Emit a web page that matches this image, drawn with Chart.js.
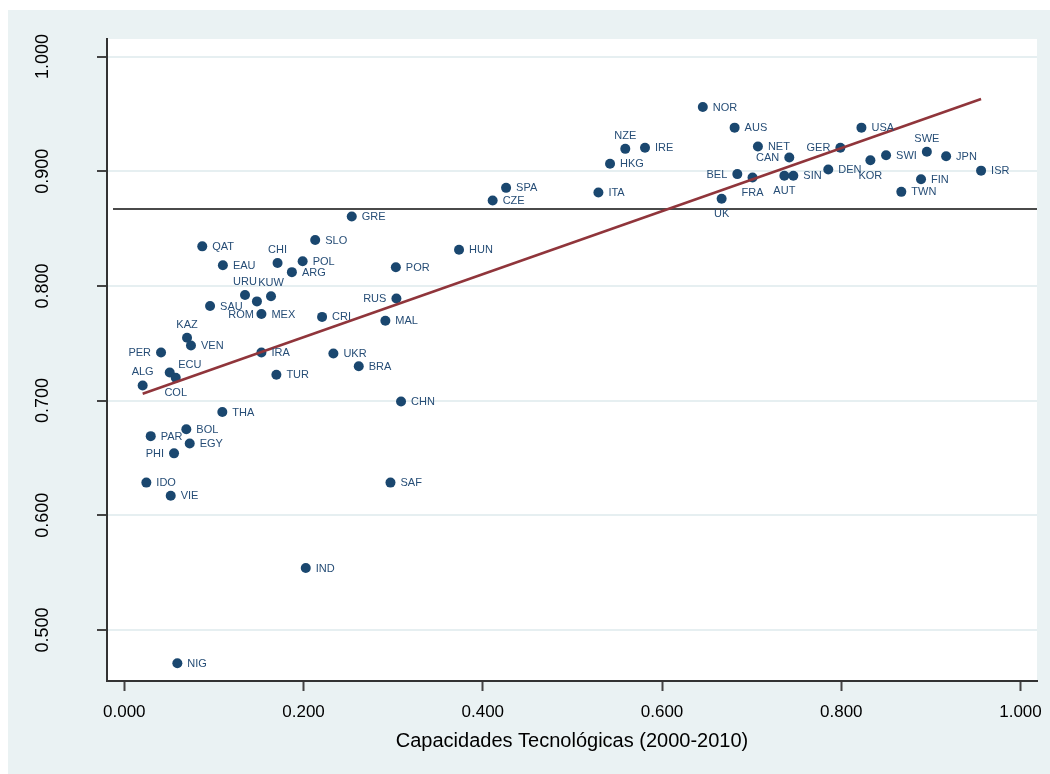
<!DOCTYPE html>
<html><head><meta charset="utf-8">
<script src="https://cdn.jsdelivr.net/npm/chart.js@4.4.1/dist/chart.umd.min.js"></script>
<style>html,body{margin:0;padding:0;background:#fff;overflow:hidden}#wrap{width:1050px;height:774px}</style>
</head><body><div id="wrap"><canvas id="c" width="1050" height="774"></canvas></div>
<script>
const countries = ['NOR','AUS','USA','NZE','IRE','HKG','NET','GER','CAN','SWE','SWI','JPN','KOR','DEN','ISR','BEL','FRA','AUT','SIN','FIN','TWN','UK','SPA','ITA','CZE','GRE','SLO','HUN','QAT','CHI','POL','EAU','POR','ARG','URU','KUW','RUS','ROM','SAU','MEX','CRI','MAL','KAZ','VEN','PER','IRA','UKR','BRA','ECU','TUR','COL','ALG','CHN','THA','BOL','PAR','EGY','PHI','IDO','SAF','VIE','IND','NIG'];
const techCapabilities = [0.6455,0.681,0.8225,0.559,0.581,0.542,0.707,0.799,0.742,0.8955,0.850,0.917,0.8325,0.7855,0.956,0.684,0.701,0.7365,0.7465,0.889,0.867,0.6665,0.426,0.529,0.411,0.2538,0.213,0.3735,0.087,0.171,0.199,0.110,0.303,0.187,0.1347,0.1637,0.3036,0.148,0.0957,0.153,0.2207,0.2913,0.070,0.0744,0.041,0.153,0.2333,0.2616,0.0507,0.1697,0.0574,0.0205,0.3088,0.1094,0.0692,0.0295,0.073,0.0555,0.0246,0.297,0.0518,0.2025,0.0592];
const yValues = [0.956,0.938,0.938,0.9195,0.9205,0.9065,0.9215,0.9205,0.912,0.917,0.914,0.913,0.9095,0.9015,0.9005,0.8975,0.8945,0.896,0.896,0.893,0.882,0.876,0.8855,0.8815,0.8745,0.8605,0.840,0.8315,0.8345,0.820,0.8215,0.818,0.8162,0.812,0.792,0.791,0.789,0.7865,0.7825,0.7755,0.773,0.7696,0.7548,0.748,0.742,0.742,0.741,0.730,0.7245,0.7225,0.720,0.7132,0.6992,0.690,0.675,0.669,0.6626,0.654,0.6285,0.6285,0.617,0.554,0.471];
const fitX = [0.0205, 0.956];
const fitY = [0.706, 0.963];
const meanY = 0.867;
const xTicks = [0, 0.2, 0.4, 0.6, 0.8, 1.0];
const xTickLabels = ['0.000','0.200','0.400','0.600','0.800','1.000'];
const yTicks = [0.5, 0.6, 0.7, 0.8, 0.9, 1.0];
const yTickLabels = ['0.500','0.600','0.700','0.800','0.900','1.000'];
const xTitle = 'Capacidades Tecnológicas (2000-2010)';

// label clock positions (style)
const labelPos = {NZE:12,SWE:12,CHI:12,URU:12,KUW:12,KAZ:12,ALG:12,
  KOR:6,FRA:6,AUT:6,UK:6,COL:6,
  CAN:9,GER:9,BEL:9,RUS:9,PER:9,PHI:9,
  ROM:7,ECU:2};

const FONT = '"Liberation Sans", Arial, Helvetica, sans-serif';
const NAVY = '#1a476f';
const LABEL_COLOR = '#264d76';

const bgPlugin = {
  id: 'bg',
  beforeDraw(chart) {
    const {ctx, chartArea: a} = chart;
    ctx.save();
    ctx.fillStyle = '#ffffff';
    ctx.fillRect(0, 0, chart.width, chart.height);
    ctx.fillStyle = '#eaf2f3';
    ctx.fillRect(8, 10, chart.width - 8, chart.height - 10);
    ctx.fillStyle = '#ffffff';
    ctx.fillRect(a.left, a.top, a.right - a.left, a.bottom - a.top);
    ctx.restore();
  }
};

const meanPlugin = {
  id: 'meanline',
  beforeDatasetsDraw(chart) {
    const {ctx, chartArea: a, scales} = chart;
    const y = scales.y.getPixelForValue(meanY);
    ctx.save();
    ctx.strokeStyle = '#4a4a4a';
    ctx.lineWidth = 2;
    ctx.beginPath();
    ctx.moveTo(a.left + 6, y);
    ctx.lineTo(a.right, y);
    ctx.stroke();
    ctx.restore();
  }
};

const labelPlugin = {
  id: 'mlabels',
  afterDatasetsDraw(chart) {
    const {ctx} = chart;
    const meta = chart.getDatasetMeta(0);
    ctx.save();
    ctx.font = '11px ' + FONT;
    ctx.fillStyle = LABEL_COLOR;
    ctx.textBaseline = 'middle';
    meta.data.forEach((pt, i) => {
      const name = countries[i];
      const pos = labelPos[name] || 3;
      let x = pt.x, y = pt.y;
      if (pos === 3) { ctx.textAlign = 'left'; x += 10; y += 0.5; }
      else if (pos === 9) { ctx.textAlign = 'right'; x -= 10; y += 0.5; }
      else if (pos === 12) { ctx.textAlign = 'center'; y -= 13; }
      else if (pos === 6) { ctx.textAlign = 'center'; y += 15.5; }
      else if (pos === 7) { ctx.textAlign = 'right'; x -= 3; y += 14; }
      else if (pos === 2) { ctx.textAlign = 'left'; x += 8.5; y -= 8; }
      ctx.fillText(name, x, y);
    });
    ctx.restore();
  }
};

const scatterData = countries.map((c, i) => ({x: techCapabilities[i], y: yValues[i]}));
const fitData = fitX.map((v, i) => ({x: v, y: fitY[i]}));

new Chart(document.getElementById('c'), {
  type: 'scatter',
  data: {
    datasets: [
      {data: scatterData, backgroundColor: NAVY, borderColor: NAVY, borderWidth: 0, pointRadius: 5, pointHoverRadius: 5, order: 1},
      {data: fitData, showLine: true, borderColor: '#90353b', borderWidth: 2.5, pointRadius: 0, fill: false, order: 0}
    ]
  },
  options: {
    responsive: false,
    animation: false,
    devicePixelRatio: 1,
    events: [],
    layout: {padding: {left: 8, top: 39, right: 13, bottom: 0}},
    plugins: {legend: {display: false}, tooltip: {enabled: false}},
    scales: {
      x: {
        type: 'linear',
        min: -0.0193, max: 1.0184,
        afterBuildTicks: s => { s.ticks = xTicks.map(v => ({value: v})); },
        afterFit: s => { s.height = 93; s.paddingLeft = 0; s.paddingRight = 0; },
        ticks: {
          callback: v => xTickLabels[xTicks.indexOf(v)],
          font: {family: FONT, size: 17}, color: '#000',
          padding: 11, maxRotation: 0, minRotation: 0, autoSkip: false
        },
        grid: {drawOnChartArea: false, drawTicks: true, tickLength: 10, tickColor: '#444', tickWidth: 2},
        border: {display: true, color: '#333', width: 2},
        title: {display: true, text: xTitle, font: {family: FONT, size: 20}, color: '#000', padding: {top: 0, bottom: 21}}
      },
      y: {
        type: 'linear',
        min: 0.4555, max: 1.0153,
        afterBuildTicks: s => { s.ticks = yTicks.map(v => ({value: v})); },
        afterFit: s => { s.width = 99; s.paddingTop = 0; s.paddingBottom = 0; },
        ticks: {
          callback: v => yTickLabels[yTicks.indexOf(v)],
          font: {family: FONT, size: 18}, color: '#000',
          padding: 31, minRotation: 90, maxRotation: 90, crossAlign: 'center', autoSkip: false
        },
        grid: {drawOnChartArea: true, color: '#e6eff1', lineWidth: 2, drawTicks: true, tickLength: 10, tickColor: '#444', tickWidth: 2},
        border: {display: true, color: '#333', width: 2}
      }
    }
  },
  plugins: [bgPlugin, meanPlugin, labelPlugin]
});
</script>
</body></html>
